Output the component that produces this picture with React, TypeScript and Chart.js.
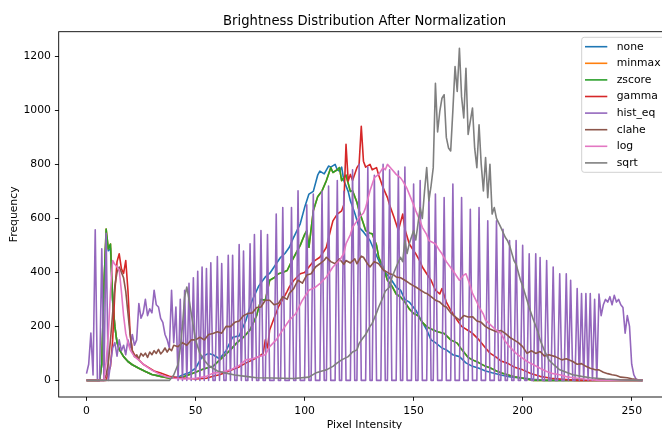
import React, { useEffect, useRef } from "react";
import { Chart, registerables } from "chart.js";

Chart.register(...registerables);

const FONT = '"DejaVu Sans", "Liberation Sans", sans-serif';

const chartTitle = "Brightness Distribution After Normalization";
const xAxisLabel = "Pixel Intensity";
const yAxisLabel = "Frequency";

const seriesNames = ["none", "minmax", "zscore", "gamma", "hist_eq", "clahe", "log", "sqrt"];
const seriesColors = ["#1f77b4", "#ff7f0e", "#2ca02c", "#d62728", "#9467bd", "#8c564b", "#e377c2", "#7f7f7f"];

const xTickValues = [0, 50, 100, 150, 200, 250];
const yTickValues = [0, 200, 400, 600, 800, 1000, 1200];

// [intensity, frequency]
const noneData: [number, number][] = [
  [0, 0], [6, 0], [7, 60], [8, 350], [9, 540], [10, 480], [11, 490], [12, 290], [13, 200], [14, 140],
  [15, 115], [17, 88], [19, 70], [21, 58], [24, 45], [27, 33], [30, 22], [34, 15], [38, 10], [42, 12],
  [44, 20], [47, 28], [50, 45], [53, 88], [56, 100], [58, 95], [61, 80], [64, 110], [67, 160], [70, 165],
  [73, 220], [76, 297], [79, 350], [82, 383], [84, 396], [86, 420], [89, 456], [91, 470], [93, 493], [95, 530],
  [98, 580], [100, 640], [102, 690], [104, 700], [106, 760], [107, 775], [109, 765], [111, 794], [112, 790], [114, 800],
  [115, 780], [116, 775], [117, 790], [118, 740], [120, 700], [121, 665], [123, 620], [125, 567], [127, 550], [130, 518],
  [132, 480], [134, 444], [137, 400], [140, 370], [142, 345], [144, 334], [146, 300], [148, 290], [151, 260], [153, 230],
  [156, 187], [158, 150], [160, 140], [163, 120], [165, 113], [168, 95], [171, 88], [174, 65], [177, 52], [180, 45],
  [183, 35], [186, 28], [190, 20], [195, 12], [199, 10], [205, 4], [210, 0], [255, 0],
];

const zscoreData: [number, number][] = [
  [0, 0], [6, 0], [7, 60], [8, 350], [9, 561], [10, 487], [11, 505], [12, 297], [13, 200], [14, 140],
  [15, 115], [17, 88], [19, 70], [21, 58], [24, 45], [27, 33], [30, 22], [34, 15], [38, 8], [42, 8],
  [45, 15], [47, 21], [50, 30], [53, 40], [56, 48], [58, 52], [61, 75], [63, 90], [66, 113], [69, 140],
  [72, 160], [75, 187], [78, 240], [80, 300], [82, 297], [84, 371], [86, 380], [88, 395], [90, 400], [92, 407],
  [94, 440], [96, 470], [98, 500], [100, 540], [101, 555], [102, 493], [104, 628], [106, 680], [108, 702], [110, 740],
  [112, 788], [113, 770], [115, 780], [116, 788], [117, 740], [119, 760], [121, 700], [122, 702], [124, 660], [125, 628],
  [127, 580], [128, 555], [130, 545], [131, 543], [133, 500], [134, 456], [136, 420], [138, 371], [140, 350], [142, 320],
  [144, 309], [146, 290], [148, 265], [150, 248], [152, 240], [154, 215], [156, 199], [158, 190], [161, 180], [164, 174],
  [167, 150], [170, 138], [172, 115], [175, 85], [177, 76], [180, 65], [183, 52], [185, 47], [188, 35], [190, 28],
  [193, 21], [197, 12], [200, 8], [205, 0], [255, 0],
];

// min-max scaling gives the same histogram as z-score here (hidden beneath it)
const minmaxData: [number, number][] = zscoreData;

const gammaData: [number, number][] = [
  [0, 0], [9, 0], [10, 30], [11, 52], [12, 150], [13, 330], [14, 440], [15, 469], [16, 414], [17, 396],
  [18, 444], [19, 334], [20, 175], [21, 110], [22, 95], [24, 76], [26, 60], [28, 50], [31, 35], [34, 27],
  [38, 15], [42, 10], [46, 8], [50, 5], [55, 8], [58, 15], [61, 21], [64, 30], [67, 40], [70, 50],
  [73, 64], [76, 75], [79, 88], [81, 100], [82, 150], [83, 120], [84, 187], [86, 230], [88, 272], [90, 300],
  [92, 330], [93, 346], [95, 370], [98, 395], [100, 400], [102, 420], [104, 440], [107, 456], [109, 480], [110, 493],
  [112, 560], [113, 591], [115, 616], [117, 628], [118, 650], [119, 874], [120, 739], [121, 763], [122, 740], [124, 788],
  [125, 800], [126, 941], [127, 812], [128, 790], [130, 800], [131, 780], [133, 788], [134, 760], [136, 714], [138, 677],
  [139, 650], [141, 604], [143, 555], [145, 616], [146, 560], [148, 506], [150, 480], [151, 469], [153, 440], [154, 420],
  [156, 395], [158, 371], [160, 334], [162, 320], [163, 340], [165, 290], [167, 260], [170, 223], [172, 200], [175, 185],
  [177, 174], [180, 150], [183, 120], [185, 101], [188, 85], [190, 72], [193, 64], [196, 50], [200, 39], [204, 25],
  [208, 15], [213, 8], [220, 3], [225, 0], [255, 0],
];

// hist_eq: one count per intensity level 0..255
const histEqCounts: number[] = [
  25, 60, 175, 20, 558, 0, 0, 487, 0, 545,
  0, 60, 120, 140, 90, 150, 110, 130, 95, 150,
  120, 170, 130, 150, 285, 230, 250, 300, 240, 265,
  250, 334, 280, 272, 230, 215, 170, 150, 120, 334,
  140, 272, 0, 300, 0, 334, 0, 360, 0, 380,
  0, 404, 0, 420, 0, 414, 0, 436, 0, 0,
  459, 0, 433, 0, 0, 463, 0, 463, 0, 0,
  503, 0, 479, 0, 0, 506, 0, 540, 0, 0,
  555, 0, 0, 540, 0, 0, 0, 616, 0, 0,
  640, 0, 0, 0, 640, 0, 0, 702, 0, 0,
  0, 650, 0, 0, 690, 0, 0, 0, 700, 0,
  0, 720, 0, 0, 0, 740, 0, 0, 700, 0,
  0, 0, 780, 0, 0, 800, 0, 0, 0, 790,
  0, 0, 760, 0, 0, 0, 800, 0, 0, 780,
  0, 0, 0, 775, 0, 0, 790, 0, 0, 0,
  727, 0, 0, 740, 0, 0, 0, 700, 0, 0,
  690, 0, 0, 0, 677, 0, 0, 0, 727, 0,
  0, 0, 677, 0, 0, 0, 634, 0, 0, 0,
  640, 0, 0, 0, 591, 0, 0, 0, 591, 0,
  0, 560, 0, 0, 518, 0, 0, 518, 0, 0,
  500, 0, 0, 469, 0, 0, 469, 0, 455, 0,
  0, 444, 0, 0, 420, 0, 0, 395, 0, 0,
  395, 0, 371, 0, 0, 340, 0, 322, 0, 322,
  0, 322, 0, 300, 0, 320, 240, 280, 300, 290,
  310, 280, 315, 290, 300, 280, 270, 175, 240, 200,
  60, 20, 5, 0, 0, 0,
];

const claheData: [number, number][] = [
  [0, 0], [8, 0], [9, 20], [10, 64], [11, 150], [12, 250], [13, 350], [14, 400], [15, 420], [16, 400],
  [17, 380], [18, 330], [19, 250], [20, 170], [21, 110], [22, 88], [23, 95], [24, 80], [25, 100], [26, 90],
  [27, 101], [28, 85], [29, 105], [30, 95], [31, 110], [32, 100], [33, 115], [34, 98], [35, 107], [36, 120],
  [37, 105], [38, 118], [39, 110], [40, 130], [42, 125], [44, 140], [46, 130], [48, 150], [50, 150], [52, 160],
  [54, 150], [56, 170], [58, 174], [60, 180], [62, 175], [64, 200], [66, 199], [68, 215], [70, 220], [72, 240],
  [74, 248], [76, 250], [78, 270], [80, 272], [82, 297], [84, 297], [86, 280], [88, 285], [90, 310], [92, 300],
  [93, 322], [95, 340], [97, 371], [99, 360], [101, 390], [103, 395], [105, 420], [107, 432], [109, 445], [110, 456],
  [112, 440], [114, 432], [116, 450], [118, 430], [119, 444], [121, 435], [123, 450], [124, 432], [126, 460], [127, 456],
  [129, 430], [130, 420], [132, 440], [134, 432], [136, 410], [138, 400], [139, 395], [141, 390], [142, 383], [144, 380],
  [146, 371], [148, 360], [150, 350], [151, 346], [153, 335], [155, 325], [156, 322], [158, 310], [160, 297], [162, 290],
  [164, 275], [165, 272], [167, 250], [169, 236], [171, 223], [173, 240], [175, 235], [177, 236], [179, 220], [181, 215],
  [183, 199], [185, 190], [188, 180], [190, 185], [192, 174], [194, 160], [196, 150], [198, 140], [200, 125], [202, 100],
  [204, 110], [206, 100], [208, 107], [210, 90], [212, 95], [215, 88], [218, 76], [220, 80], [223, 70], [225, 60],
  [227, 62], [229, 52], [231, 45], [233, 40], [235, 39], [237, 30], [239, 25], [241, 21], [243, 18], [245, 12],
  [248, 10], [250, 6], [253, 2], [255, 0],
];

const logData: [number, number][] = [
  [0, 0], [8, 0], [9, 70], [10, 170], [11, 330], [12, 444], [13, 430], [14, 420], [15, 410], [16, 330],
  [17, 240], [18, 174], [19, 140], [20, 113], [21, 100], [22, 88], [24, 75], [26, 60], [28, 48], [30, 38],
  [33, 25], [36, 15], [40, 8], [45, 5], [50, 8], [55, 15], [58, 27], [62, 30], [66, 39], [70, 55],
  [73, 76], [76, 80], [79, 88], [82, 95], [84, 125], [87, 150], [90, 187], [93, 223], [96, 248], [99, 297],
  [102, 334], [105, 345], [107, 358], [110, 383], [113, 420], [116, 444], [118, 470], [119, 506], [121, 540], [122, 567],
  [124, 590], [125, 604], [127, 620], [128, 640], [130, 702], [132, 751], [134, 763], [136, 788], [137, 780], [138, 800],
  [140, 782], [142, 763], [144, 750], [145, 739], [147, 710], [148, 690], [150, 650], [151, 628], [153, 590], [154, 567],
  [156, 540], [157, 518], [159, 510], [160, 506], [162, 480], [163, 469], [165, 440], [168, 407], [171, 371], [173, 390],
  [174, 395], [176, 350], [177, 322], [179, 290], [180, 272], [182, 245], [183, 223], [186, 200], [188, 185], [190, 174],
  [192, 145], [194, 125], [197, 100], [199, 88], [202, 70], [205, 58], [208, 45], [211, 33], [214, 25], [217, 21],
  [220, 14], [223, 10], [228, 5], [235, 0], [255, 0],
];

const sqrtData: [number, number][] = [
  [0, 0], [38, 0], [40, 20], [42, 60], [43, 120], [44, 200], [45, 309], [46, 346], [47, 300], [48, 250],
  [49, 200], [50, 150], [52, 100], [54, 75], [56, 55], [58, 45], [60, 35], [64, 27], [68, 20], [73, 15],
  [78, 10], [85, 9], [95, 7], [102, 12], [105, 27], [108, 35], [110, 39], [113, 52], [115, 65], [117, 76],
  [120, 88], [122, 105], [124, 113], [125, 137], [127, 160], [128, 170], [130, 200], [131, 211], [133, 250], [134, 272],
  [136, 309], [137, 330], [139, 346], [140, 380], [142, 420], [144, 456], [145, 440], [146, 518], [147, 470], [148, 506],
  [150, 555], [151, 520], [153, 640], [154, 600], [155, 700], [156, 788], [157, 665], [158, 720], [159, 788], [160, 1100],
  [161, 920], [162, 996], [163, 1045], [164, 1058], [165, 900], [166, 861], [167, 850], [168, 1000], [169, 1162], [170, 1070],
  [171, 1230], [172, 1050], [173, 972], [174, 1156], [175, 911], [176, 960], [177, 1009], [178, 860], [179, 788], [180, 947],
  [181, 800], [182, 702], [183, 825], [184, 677], [185, 800], [186, 616], [187, 640], [188, 600], [190, 567], [192, 530],
  [193, 518], [194, 500], [196, 444], [197, 430], [199, 371], [200, 350], [202, 297], [203, 270], [205, 223], [207, 180],
  [208, 150], [210, 110], [212, 76], [214, 60], [217, 39], [220, 30], [223, 21], [227, 15], [231, 10], [238, 5],
  [245, 2], [255, 0],
];

const X_MIN = -12.75;
const X_MAX = 267.75;
const Y_MIN = -61.5;
const Y_MAX = 1291.5;

const CANVAS_W = 672;
const CANVAS_H = 440;
const SMALL = 10.8;
const LARGE = 13.2;

function pairsToPoints(pairs: [number, number][]) {
  return pairs.map(([x, y]) => ({ x, y }));
}

const decorPlugin = {
  id: "decor",
  afterDatasetsDraw(chart: any) {
    const { ctx, chartArea: a } = chart;
    ctx.save();
    // spines
    ctx.strokeStyle = "#000";
    ctx.lineWidth = 0.9;
    ctx.strokeRect(a.left, a.top, a.right - a.left, a.bottom - a.top);

    // legend (upper right, inside axes)
    const boxLeft = 581.7;
    const boxTop = 37.3;
    const boxRight = a.right - 5.5;
    const boxBottom = 172.3;
    const r = 2.5;
    ctx.beginPath();
    ctx.moveTo(boxLeft + r, boxTop);
    ctx.lineTo(boxRight - r, boxTop);
    ctx.quadraticCurveTo(boxRight, boxTop, boxRight, boxTop + r);
    ctx.lineTo(boxRight, boxBottom - r);
    ctx.quadraticCurveTo(boxRight, boxBottom, boxRight - r, boxBottom);
    ctx.lineTo(boxLeft + r, boxBottom);
    ctx.quadraticCurveTo(boxLeft, boxBottom, boxLeft, boxBottom - r);
    ctx.lineTo(boxLeft, boxTop + r);
    ctx.quadraticCurveTo(boxLeft, boxTop, boxLeft + r, boxTop);
    ctx.closePath();
    ctx.fillStyle = "rgba(255,255,255,0.8)";
    ctx.fill();
    ctx.strokeStyle = "#cccccc";
    ctx.lineWidth = 0.9;
    ctx.stroke();

    ctx.font = `${SMALL}px ${FONT}`;
    ctx.textAlign = "left";
    ctx.textBaseline = "middle";
    seriesNames.forEach((name, i) => {
      const cy = 46.7 + i * 16.6;
      ctx.strokeStyle = seriesColors[i];
      ctx.lineWidth = 1.6;
      ctx.beginPath();
      ctx.moveTo(585, cy);
      ctx.lineTo(607.3, cy);
      ctx.stroke();
      ctx.fillStyle = "#000";
      ctx.fillText(name, 616.7, cy);
    });
    ctx.restore();
  },
  afterDraw(chart: any) {
    const { ctx, chartArea: a } = chart;
    const cx = (a.left + a.right) / 2;
    ctx.save();
    ctx.fillStyle = "#000";
    ctx.textAlign = "center";
    ctx.textBaseline = "alphabetic";
    ctx.font = `${LARGE}px ${FONT}`;
    ctx.fillText(chartTitle, cx, 24.6);
    ctx.font = `${SMALL}px ${FONT}`;
    ctx.fillText(xAxisLabel, cx, 428);
    ctx.translate(16.6, (a.top + a.bottom) / 2);
    ctx.rotate(-Math.PI / 2);
    ctx.fillText(yAxisLabel, 0, 0);
    ctx.restore();
  },
};

export default function App() {
  const canvasRef = useRef<HTMLCanvasElement | null>(null);

  useEffect(() => {
    const canvas = canvasRef.current;
    if (!canvas) return;

    const seriesPoints = [
      pairsToPoints(noneData),
      pairsToPoints(minmaxData),
      pairsToPoints(zscoreData),
      pairsToPoints(gammaData),
      histEqCounts.map((y, x) => ({ x, y })),
      pairsToPoints(claheData),
      pairsToPoints(logData),
      pairsToPoints(sqrtData),
    ];
    const n = seriesNames.length;

    const chart = new Chart(canvas, {
      type: "line",
      data: {
        datasets: seriesNames.map((name, i) => ({
          label: name,
          data: seriesPoints[i],
          borderColor: seriesColors[i],
          backgroundColor: seriesColors[i],
          borderWidth: 1.6,
          pointRadius: 0,
          pointHoverRadius: 0,
          tension: 0,
          fill: false,
          borderJoinStyle: "round" as const,
          order: n - 1 - i,
        })),
      },
      options: {
        responsive: false,
        animation: false,
        devicePixelRatio: 1,
        events: [],
        layout: { padding: { top: 31.7, right: CANVAS_W - 670.4, bottom: 0, left: 0 } },
        plugins: {
          legend: { display: false },
          title: { display: false },
          tooltip: { enabled: false },
        },
        scales: {
          x: {
            type: "linear",
            min: X_MIN,
            max: X_MAX,
            afterBuildTicks: (s: any) => {
              s.ticks = xTickValues.map((v) => ({ value: v }));
            },
            afterFit: (s: any) => {
              s.height = CANVAS_H - 397;
            },
            grid: {
              display: true,
              drawOnChartArea: false,
              drawTicks: true,
              tickLength: 3.8,
              tickWidth: 0.9,
              tickColor: "#000",
            },
            border: { display: false },
            ticks: {
              color: "#000",
              font: { size: SMALL, family: FONT },
              padding: 3.5,
              maxRotation: 0,
              autoSkip: false,
              callback: (v: any) => String(v),
            },
          },
          y: {
            type: "linear",
            min: Y_MIN,
            max: Y_MAX,
            afterBuildTicks: (s: any) => {
              s.ticks = yTickValues.map((v) => ({ value: v }));
            },
            afterFit: (s: any) => {
              s.width = 58.7;
            },
            grid: {
              display: true,
              drawOnChartArea: false,
              drawTicks: true,
              tickLength: 3.8,
              tickWidth: 0.9,
              tickColor: "#000",
            },
            border: { display: false },
            ticks: {
              color: "#000",
              font: { size: SMALL, family: FONT },
              padding: 4,
              autoSkip: false,
              callback: (v: any) => String(v),
            },
          },
        },
      },
      plugins: [decorPlugin],
    });

    return () => chart.destroy();
  }, []);

  return (
    <div
      style={{
        position: "fixed",
        left: 0,
        top: 0,
        width: 662,
        height: 429,
        overflow: "hidden",
        background: "#fff",
      }}
    >
      <canvas
        ref={canvasRef}
        width={CANVAS_W}
        height={CANVAS_H}
        style={{ display: "block", width: CANVAS_W, height: CANVAS_H }}
      />
    </div>
  );
}
